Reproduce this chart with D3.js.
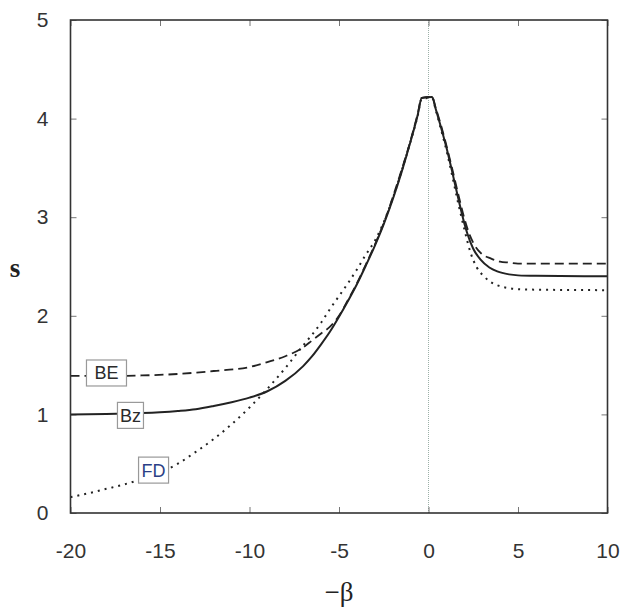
<!DOCTYPE html>
<html>
<head>
<meta charset="utf-8">
<script src="https://cdn.jsdelivr.net/npm/d3@7"></script>
<style>
  html, body { margin: 0; padding: 0; background: #fff; }
  svg { display: block; }
</style>
</head>
<body>
<svg id="chart" width="620" height="609"></svg>
<script>
// ---- data ----
const xTicks = [-20, -15, -10, -5, 0, 5, 10];
const yTicks = [0, 1, 2, 3, 4, 5];
const xLabel = "\u2212\u03B2";
const yLabel = "s";

const betaBz = [-20, -18, -16, -15, -14, -13, -12, -11, -10, -9, -8, -7, -6.5, -6, -5.5, -5, -4.5, -4, -3.5, -3, -2.5, -2, -1.5, -1, -0.6, -0.38, 0.2, 0.4, 0.67, 1.04, 1.3, 1.6, 2, 2.16, 2.5, 2.91, 3.4, 3.84, 4.5, 5, 6, 10];
const sBz    = [1.00, 1.003, 1.013, 1.022, 1.035, 1.053, 1.085, 1.123, 1.17, 1.235, 1.34, 1.49, 1.59, 1.71, 1.84, 1.99, 2.15, 2.32, 2.51, 2.71, 2.93, 3.18, 3.46, 3.77, 4.04, 4.21, 4.22, 4.10, 3.93, 3.68, 3.48, 3.24, 2.94, 2.84, 2.68, 2.57, 2.49, 2.45, 2.42, 2.41, 2.405, 2.40];

const betaBE = [-20, -18, -16, -14, -12, -10, -9, -8, -7, -6.5, -6, -5.5, -5, -4.5, -4, -3.5, -3, -2.5, -2, -1.5, -1, -0.6, -0.38, 0.2, 0.4, 0.67, 1.04, 1.3, 1.6, 2, 2.3, 2.5, 2.9, 3.5, 4, 4.5, 5, 6, 10];
const sBE    = [1.39, 1.39, 1.395, 1.41, 1.44, 1.48, 1.53, 1.59, 1.68, 1.75, 1.82, 1.89, 2.00, 2.16, 2.33, 2.52, 2.72, 2.94, 3.20, 3.48, 3.78, 4.05, 4.21, 4.22, 4.11, 3.95, 3.70, 3.51, 3.28, 2.99, 2.82, 2.74, 2.64, 2.58, 2.55, 2.54, 2.53, 2.53, 2.53];

const betaFD = [-20, -19, -18, -17, -16, -15, -14, -13, -12, -11, -10, -9, -8, -7, -6.5, -6, -5.5, -5, -4.5, -4, -3.5, -3, -2.5, -2, -1.5, -1, -0.6, -0.38, 0.2, 0.4, 0.67, 1.04, 1.3, 1.6, 2, 2.35, 2.7, 3.1, 3.5, 3.84, 4.5, 5, 6, 10];
const sFD    = [0.16, 0.20, 0.245, 0.29, 0.345, 0.41, 0.50, 0.62, 0.75, 0.90, 1.07, 1.26, 1.47, 1.70, 1.81, 1.93, 2.07, 2.20, 2.33, 2.47, 2.62, 2.76, 2.95, 3.19, 3.47, 3.77, 4.03, 4.20, 4.21, 4.09, 3.91, 3.65, 3.44, 3.19, 2.88, 2.64, 2.49, 2.40, 2.34, 2.31, 2.28, 2.27, 2.265, 2.26];

const labelNames  = ["BE", "Bz", "FD"];
const labelBeta   = [-17.99, -16.65, -15.36];
const labelS      = [1.42, 0.99, 0.435];

// ---- layout ----
const svg = d3.select("#chart");
const mLeft = 70.5, mRight = 607.5, mTop = 20, mBottom = 513;

const x = d3.scaleLinear().domain([-20, 10]).range([mLeft, mRight]);
const y = d3.scaleLinear().domain([0, 5]).range([mBottom, mTop]);

const tickColor = "#777";
const frameColor = "#333";
const fontSans = "'Liberation Sans', Arial, sans-serif";
const fontSerif = "'Liberation Serif', 'Times New Roman', serif";
const fmt = d => String(d);

// zero reference line
svg.append("line")
  .attr("x1", x(0)).attr("x2", x(0))
  .attr("y1", y(5)).attr("y2", y(0))
  .attr("stroke", "#9cb0a8").attr("stroke-width", 1)
  .attr("stroke-dasharray", "1,1");

// axes
const gB = svg.append("g").attr("transform", `translate(0,${mBottom})`)
  .call(d3.axisBottom(x).tickValues(xTicks).tickFormat(fmt).tickSizeInner(-6).tickSizeOuter(0).tickPadding(30));
const gL = svg.append("g").attr("transform", `translate(${mLeft},0)`)
  .call(d3.axisLeft(y).tickValues(yTicks).tickFormat(fmt).tickSizeInner(-6).tickSizeOuter(0).tickPadding(22));
const gT = svg.append("g").attr("transform", `translate(0,${mTop})`)
  .call(d3.axisTop(x).tickValues(xTicks).tickSizeInner(-6).tickSizeOuter(0).tickFormat(""));
const gR = svg.append("g").attr("transform", `translate(${mRight},0)`)
  .call(d3.axisRight(y).tickValues(yTicks).tickSizeInner(-6).tickSizeOuter(0).tickFormat(""));

[gB, gL, gT, gR].forEach(g => {
  g.select(".domain").remove();
  g.selectAll(".tick line").attr("stroke", tickColor).attr("stroke-width", 1);
  g.selectAll(".tick text")
    .attr("fill", "#333")
    .style("font-family", fontSans)
    .style("font-size", "21px");
});

// series lines
const line = d3.line().x(d => x(d[0])).y(d => y(d[1])).curve(d3.curveMonotoneX);
const zip = (a, b) => a.map((v, i) => [v, b[i]]);
const seriesData = {
  Bz: zip(betaBz, sBz),
  BE: zip(betaBE, sBE),
  FD: zip(betaFD, sFD)
};
const seriesStyle = {
  Bz: { dash: null, width: 2 },
  BE: { dash: "9,5", width: 1.8 },
  FD: { dash: "2,5", width: 2 }
};

svg.append("g").selectAll("path")
  .data(["FD", "BE", "Bz"])
  .join("path")
  .attr("d", k => line(seriesData[k]))
  .attr("fill", "none")
  .attr("stroke", "#222")
  .attr("stroke-width", k => seriesStyle[k].width)
  .attr("stroke-dasharray", k => seriesStyle[k].dash);

// frame
svg.append("rect")
  .attr("x", mLeft).attr("y", mTop)
  .attr("width", mRight - mLeft).attr("height", mBottom - mTop)
  .attr("fill", "none").attr("stroke", frameColor).attr("stroke-width", 1.6);

// boxed labels
const labelColor = { BE: "#2a2a2a", Bz: "#2a2a2a", FD: "#2b3f86" };
const labelPad = { BE: 8, Bz: 2.5, FD: 3 };
const lg = svg.append("g");
labelNames.forEach((name, i) => {
  const cx = x(labelBeta[i]), cy = y(labelS[i]);
  const g = lg.append("g");
  const rect = g.append("rect");
  const t = g.append("text")
    .attr("x", cx).attr("y", cy)
    .attr("text-anchor", "middle")
    .attr("dy", "0.36em")
    .attr("fill", labelColor[name])
    .style("font-family", fontSans)
    .style("font-size", "18px")
    .text(name);
  const bb = t.node().getBBox();
  const pad = labelPad[name];
  rect.attr("x", bb.x - pad).attr("y", cy - 13)
    .attr("width", bb.width + 2 * pad).attr("height", 26)
    .attr("fill", "#fff").attr("stroke", "#999").attr("stroke-width", 1.2);
});

// axis titles
svg.append("text")
  .attr("x", (mLeft + mRight) / 2).attr("y", 601)
  .attr("text-anchor", "middle")
  .attr("fill", "#222")
  .style("font-family", fontSerif)
  .style("font-size", "27px")
  .text(xLabel);

svg.append("text")
  .attr("x", 15).attr("y", 277)
  .attr("text-anchor", "middle")
  .attr("fill", "#222")
  .style("font-family", fontSerif)
  .style("font-weight", "bold")
  .style("font-size", "27px")
  .text(yLabel);
</script>
</body>
</html>
